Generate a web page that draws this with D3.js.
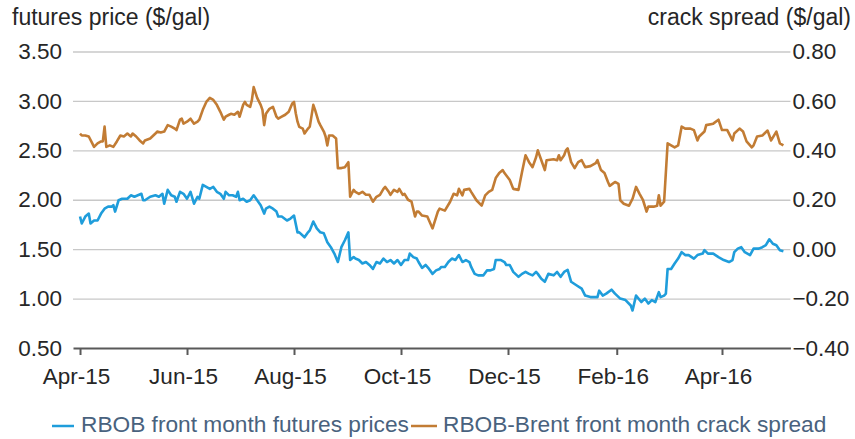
<!DOCTYPE html>
<html>
<head>
<meta charset="utf-8">
<script src="https://cdn.jsdelivr.net/npm/d3@7"></script>
<style>
  body { margin: 0; background: #fff; }
  svg text { font-family: "Liberation Sans", Arial, sans-serif; fill: #262626; }
</style>
</head>
<body>
<svg id="chart"></svg>
<script>
// RBOB front month futures prices ($/gal)
const priceDates = [
  "2015-04-01","2015-04-02","2015-04-04","2015-04-06","2015-04-07","2015-04-09","2015-04-11","2015-04-13","2015-04-15","2015-04-17",
  "2015-04-19","2015-04-20","2015-04-21","2015-04-23","2015-04-25","2015-04-28","2015-04-30","2015-05-02","2015-05-04","2015-05-06",
  "2015-05-07","2015-05-08","2015-05-11","2015-05-14","2015-05-16","2015-05-18","2015-05-19","2015-05-21","2015-05-23","2015-05-25",
  "2015-05-26","2015-05-28","2015-05-30","2015-06-01","2015-06-03","2015-06-05","2015-06-07","2015-06-08","2015-06-10","2015-06-12",
  "2015-06-14","2015-06-16","2015-06-18","2015-06-20","2015-06-22","2015-06-23","2015-06-25","2015-06-27","2015-06-29","2015-06-30",
  "2015-07-01","2015-07-03","2015-07-05","2015-07-07","2015-07-09","2015-07-11","2015-07-13","2015-07-15","2015-07-16","2015-07-18",
  "2015-07-20","2015-07-22","2015-07-23","2015-07-25","2015-07-28","2015-07-30","2015-08-01","2015-08-03","2015-08-04","2015-08-07",
  "2015-08-09","2015-08-10","2015-08-12","2015-08-14","2015-08-16","2015-08-18","2015-08-20","2015-08-22","2015-08-24","2015-08-26",
  "2015-08-28","2015-08-30","2015-09-01","2015-09-02","2015-09-04","2015-09-05","2015-09-07","2015-09-09","2015-09-11","2015-09-13",
  "2015-09-15","2015-09-17","2015-09-19","2015-09-21","2015-09-23","2015-09-25","2015-09-27","2015-09-29","2015-10-01","2015-10-03",
  "2015-10-05","2015-10-06","2015-10-08","2015-10-10","2015-10-11","2015-10-13","2015-10-15","2015-10-17","2015-10-19","2015-10-21",
  "2015-10-23","2015-10-24","2015-10-26","2015-10-28","2015-10-30","2015-11-01","2015-11-03","2015-11-05","2015-11-07","2015-11-09",
  "2015-11-10","2015-11-12","2015-11-14","2015-11-17","2015-11-19","2015-11-21","2015-11-23","2015-11-24","2015-11-27","2015-11-29",
  "2015-11-30","2015-12-02","2015-12-04","2015-12-07","2015-12-09","2015-12-11","2015-12-13","2015-12-15","2015-12-17","2015-12-18",
  "2015-12-20","2015-12-22","2015-12-24","2015-12-27","2015-12-29","2015-12-31","2016-01-02","2016-01-04","2016-01-06","2016-01-09",
  "2016-01-12","2016-01-14","2016-01-17","2016-01-21","2016-01-22","2016-01-24","2016-01-26","2016-01-29","2016-01-31","2016-02-03",
  "2016-02-06","2016-02-09","2016-02-10","2016-02-12","2016-02-15","2016-02-17","2016-02-19","2016-02-21","2016-02-23","2016-02-25",
  "2016-02-26","2016-02-28","2016-02-29","2016-03-01","2016-03-03","2016-03-05","2016-03-07","2016-03-09","2016-03-11","2016-03-13",
  "2016-03-16","2016-03-18","2016-03-21","2016-03-22","2016-03-24","2016-03-27","2016-03-30","2016-04-02","2016-04-05","2016-04-07",
  "2016-04-08","2016-04-10","2016-04-12","2016-04-14","2016-04-17","2016-04-19","2016-04-22","2016-04-24","2016-04-26","2016-04-28",
  "2016-04-30","2016-05-02","2016-05-04","2016-05-06"
]
const priceValues = [
  1.83,1.76,1.83,1.86,1.76,1.79,1.79,1.86,1.91,1.93,
  1.93,1.945,1.88,1.995,2.01,2.01,2.045,2.03,2.045,2.06,
  1.995,1.995,2.03,2.045,2.03,2.06,1.96,2.10,2.045,2.03,
  1.98,2.08,2.06,2.01,2.08,1.96,2.03,2.01,2.15,2.13,
  2.11,2.13,2.08,2.06,2.01,2.08,2.045,2.045,2.03,2.08,
  1.995,2.01,1.98,1.995,2.045,1.995,1.945,1.86,1.91,1.93,
  1.91,1.88,1.83,1.83,1.79,1.81,1.84,1.67,1.67,1.62,
  1.67,1.69,1.78,1.71,1.67,1.66,1.57,1.52,1.455,1.37,
  1.52,1.59,1.67,1.39,1.42,1.405,1.39,1.355,1.37,1.34,
  1.30,1.37,1.355,1.405,1.37,1.39,1.355,1.39,1.34,1.39,
  1.39,1.455,1.42,1.405,1.37,1.31,1.34,1.30,1.25,1.285,
  1.30,1.32,1.32,1.37,1.405,1.39,1.44,1.37,1.39,1.37,
  1.32,1.25,1.235,1.235,1.285,1.285,1.30,1.39,1.39,1.37,
  1.34,1.34,1.27,1.22,1.25,1.27,1.25,1.235,1.27,1.25,
  1.20,1.17,1.25,1.235,1.27,1.22,1.27,1.29,1.17,1.135,
  1.10,1.03,1.015,1.015,1.08,1.03,1.05,1.09,1.05,1.00,
  0.985,0.93,0.88,1.03,0.965,1.00,0.95,0.985,0.965,1.065,
  1.015,1.03,1.05,1.30,1.30,1.355,1.405,1.47,1.44,1.44,
  1.405,1.44,1.455,1.49,1.455,1.455,1.42,1.39,1.37,1.39,
  1.47,1.505,1.52,1.47,1.44,1.505,1.505,1.52,1.54,1.60,
  1.555,1.54,1.49,1.48
]

// RBOB-Brent front month crack spread ($/gal)
const crackDates = [
  "2015-04-01","2015-04-02","2015-04-04","2015-04-06","2015-04-08","2015-04-09","2015-04-11","2015-04-13","2015-04-14","2015-04-15",
  "2015-04-16","2015-04-18","2015-04-20","2015-04-22","2015-04-24","2015-04-26","2015-04-28","2015-04-30","2015-05-01","2015-05-03",
  "2015-05-05","2015-05-07","2015-05-08","2015-05-11","2015-05-14","2015-05-15","2015-05-17","2015-05-19","2015-05-21","2015-05-23",
  "2015-05-25","2015-05-26","2015-05-28","2015-05-29","2015-05-30","2015-06-01","2015-06-03","2015-06-05","2015-06-07","2015-06-08",
  "2015-06-10","2015-06-12","2015-06-14","2015-06-16","2015-06-18","2015-06-20","2015-06-22","2015-06-23","2015-06-25","2015-06-26",
  "2015-06-28","2015-06-30","2015-07-01","2015-07-03","2015-07-04","2015-07-05","2015-07-07","2015-07-08","2015-07-09","2015-07-11",
  "2015-07-13","2015-07-14","2015-07-15","2015-07-16","2015-07-18","2015-07-20","2015-07-22","2015-07-23","2015-07-25","2015-07-27",
  "2015-07-29","2015-07-31","2015-08-01","2015-08-02","2015-08-03","2015-08-04","2015-08-06","2015-08-07","2015-08-09","2015-08-10",
  "2015-08-12","2015-08-13","2015-08-15","2015-08-16","2015-08-18","2015-08-19","2015-08-20","2015-08-21","2015-08-23","2015-08-25",
  "2015-08-26","2015-08-28","2015-08-30","2015-09-01","2015-09-02","2015-09-04","2015-09-05","2015-09-07","2015-09-09","2015-09-11",
  "2015-09-13","2015-09-15","2015-09-17","2015-09-19","2015-09-21","2015-09-22","2015-09-24","2015-09-25","2015-09-27","2015-09-29",
  "2015-09-30","2015-10-02","2015-10-03","2015-10-05","2015-10-07","2015-10-09","2015-10-10","2015-10-11","2015-10-13","2015-10-16",
  "2015-10-19","2015-10-22","2015-10-23","2015-10-26","2015-10-29","2015-10-31","2015-11-02","2015-11-03","2015-11-05","2015-11-06",
  "2015-11-09","2015-11-10","2015-11-13","2015-11-16","2015-11-18","2015-11-20","2015-11-22","2015-11-24","2015-11-26","2015-11-28",
  "2015-11-29","2015-12-02","2015-12-04","2015-12-07","2015-12-09","2015-12-11","2015-12-13","2015-12-15","2015-12-17","2015-12-18",
  "2015-12-20","2015-12-22","2015-12-23","2015-12-27","2015-12-29","2015-12-30","2015-12-31","2016-01-02","2016-01-03","2016-01-04",
  "2016-01-06","2016-01-08","2016-01-10","2016-01-12","2016-01-14","2016-01-17","2016-01-20","2016-01-21","2016-01-23","2016-01-25",
  "2016-01-27","2016-01-28","2016-01-31","2016-02-02","2016-02-03","2016-02-05","2016-02-08","2016-02-10","2016-02-12","2016-02-14",
  "2016-02-16","2016-02-18","2016-02-19","2016-02-22","2016-02-24","2016-02-25","2016-02-26","2016-02-28","2016-03-01","2016-03-03",
  "2016-03-05","2016-03-07","2016-03-09","2016-03-11","2016-03-14","2016-03-16","2016-03-18","2016-03-19","2016-03-22","2016-03-23",
  "2016-03-27","2016-03-30","2016-04-01","2016-04-04","2016-04-07","2016-04-08","2016-04-11","2016-04-13","2016-04-15","2016-04-18",
  "2016-04-19","2016-04-21","2016-04-24","2016-04-27","2016-04-29","2016-05-02","2016-05-04","2016-05-06"
]
const crackValues = [
  0.468,0.46,0.46,0.456,0.428,0.414,0.428,0.436,0.436,0.496,
  0.414,0.42,0.414,0.436,0.46,0.456,0.468,0.456,0.468,0.456,
  0.44,0.428,0.44,0.448,0.468,0.476,0.472,0.476,0.502,0.496,
  0.488,0.482,0.524,0.528,0.508,0.516,0.528,0.508,0.516,0.524,
  0.564,0.596,0.612,0.604,0.584,0.556,0.524,0.536,0.544,0.548,
  0.544,0.556,0.536,0.584,0.596,0.584,0.576,0.604,0.656,0.612,
  0.584,0.564,0.502,0.548,0.568,0.576,0.536,0.528,0.536,0.544,
  0.556,0.59,0.596,0.55,0.516,0.495,0.488,0.468,0.488,0.496,
  0.584,0.564,0.516,0.502,0.476,0.456,0.42,0.46,0.46,0.448,
  0.328,0.328,0.332,0.352,0.212,0.24,0.232,0.224,0.232,0.22,
  0.22,0.192,0.212,0.22,0.244,0.252,0.232,0.22,0.24,0.232,
  0.244,0.22,0.224,0.2,0.192,0.132,0.152,0.152,0.136,0.132,
  0.084,0.152,0.164,0.156,0.192,0.224,0.218,0.244,0.218,0.24,
  0.244,0.232,0.198,0.176,0.218,0.232,0.24,0.288,0.308,0.32,
  0.308,0.28,0.244,0.24,0.312,0.38,0.352,0.332,0.372,0.40,
  0.36,0.32,0.36,0.364,0.36,0.38,0.36,0.38,0.40,0.408,
  0.352,0.328,0.352,0.36,0.332,0.336,0.348,0.36,0.32,0.308,
  0.272,0.256,0.272,0.264,0.198,0.184,0.176,0.204,0.252,0.224,
  0.198,0.152,0.172,0.172,0.176,0.218,0.176,0.192,0.428,0.42,
  0.412,0.42,0.496,0.488,0.488,0.482,0.44,0.456,0.476,0.502,
  0.508,0.524,0.482,0.482,0.44,0.468,0.488,0.476,0.436,0.412,
  0.42,0.456,0.46,0.48,0.44,0.476,0.428,0.42
]

const priceTicks = [0.5, 1.0, 1.5, 2.0, 2.5, 3.0, 3.5]
const crackTicks = [-0.4, -0.2, 0.0, 0.2, 0.4, 0.6, 0.8]
const monthTicks = ["2015-04-01", "2015-06-01", "2015-08-01", "2015-10-01", "2015-12-01", "2016-02-01", "2016-04-01"]
const dateSpan = ["2015-03-28", "2016-05-10"]
const seriesNames = ["RBOB front month futures prices", "RBOB-Brent front month crack spread"]
const seriesColors = ["#1f9ddb", "#c27c34"]

const parseDate = d3.timeParse("%Y-%m-%d")

// plot box, in page pixels
const svgWidth = 855, svgHeight = 439
const plotLeft = 73, plotRight = 790.4, plotTop = 51.5, plotBottom = 348

const svg = d3.select("#chart")
    .attr("width", svgWidth)
    .attr("height", svgHeight)

const xScale = d3.scaleTime()
    .domain(dateSpan.map(parseDate))
    .range([plotLeft, plotRight])

const yLeft = d3.scaleLinear()
    .domain([0.5, 3.5])
    .range([plotBottom, plotTop])

const yRight = d3.scaleLinear()
    .domain([-0.4, 0.8])
    .range([plotBottom, plotTop])

// gridlines + left labels
const gridAxis = svg.append("g")
    .attr("transform", `translate(${plotLeft},0)`)
    .call(d3.axisLeft(yLeft)
        .tickValues(priceTicks)
        .tickSize(-(plotRight - plotLeft))
        .tickPadding(11)
        .tickFormat(d3.format(".2f")))
gridAxis.select(".domain").remove()
gridAxis.selectAll("line")
    .attr("stroke", "#c8c8c8")
    .attr("stroke-width", 1.3)
    .filter(d => d == 0.5).remove()
gridAxis.selectAll("text")
    .style("font-size", "22.5px")
    .attr("fill", "#262626")

// right labels
const rightAxis = svg.append("g")
    .attr("transform", `translate(${plotRight},0)`)
    .call(d3.axisRight(yRight)
        .tickValues(crackTicks)
        .tickSize(0)
        .tickPadding(2)
        .tickFormat(d3.format(".2f")))
rightAxis.select(".domain").remove()
rightAxis.selectAll("text")
    .style("font-size", "22.5px")
    .attr("fill", "#262626")

// bottom axis
const xAxis = svg.append("g")
    .attr("transform", `translate(0,${plotBottom})`)
    .call(d3.axisBottom(xScale)
        .tickValues(monthTicks.map(parseDate))
        .tickSize(7)
        .tickSizeOuter(0)
        .tickFormat(d3.timeFormat("%b-%y")))
xAxis.select(".domain")
    .attr("stroke", "#595959")
    .attr("stroke-width", 2)
xAxis.selectAll("line")
    .attr("stroke", "#595959")
    .attr("stroke-width", 2)
xAxis.selectAll("text")
    .style("font-size", "22.5px")
    .attr("fill", "#262626")
    .attr("x", -4)
    .attr("y", 36)
    .attr("dy", 0)

// lines
const priceData = priceDates.map((d, i) => ({ date: parseDate(d), value: priceValues[i] }))
const crackData = crackDates.map((d, i) => ({ date: parseDate(d), value: crackValues[i] }))

svg.append("path")
    .datum(crackData)
    .attr("fill", "none")
    .attr("stroke", seriesColors[1])
    .attr("stroke-width", 2.6)
    .attr("stroke-linejoin", "round")
    .attr("d", d3.line()
        .x(function(d) { return xScale(d.date) })
        .y(function(d) { return yRight(d.value) }))

svg.append("path")
    .datum(priceData)
    .attr("fill", "none")
    .attr("stroke", seriesColors[0])
    .attr("stroke-width", 2.6)
    .attr("stroke-linejoin", "round")
    .attr("d", d3.line()
        .x(function(d) { return xScale(d.date) })
        .y(function(d) { return yLeft(d.value) }))

// axis titles
svg.append("text")
    .attr("x", 12)
    .attr("y", 25)
    .style("font-size", "23px")
    .text("futures price ($/gal)")

svg.append("text")
    .attr("x", 851)
    .attr("y", 25)
    .attr("text-anchor", "end")
    .style("font-size", "23px")
    .text("crack spread ($/gal)")

// legend
const legendX = [[52, 74, 81], [411, 437, 443]]
const legend = svg.append("g")
legendX.forEach(function(p, i) {
    legend.append("line")
        .attr("x1", p[0]).attr("x2", p[1])
        .attr("y1", 426).attr("y2", 426)
        .attr("stroke", seriesColors[i])
        .attr("stroke-width", 2.5)
    legend.append("text")
        .attr("x", p[2])
        .attr("y", 432)
        .style("font-size", "22.7px")
        .style("fill", "#49627e")
        .text(seriesNames[i])
})
</script>
</body>
</html>
